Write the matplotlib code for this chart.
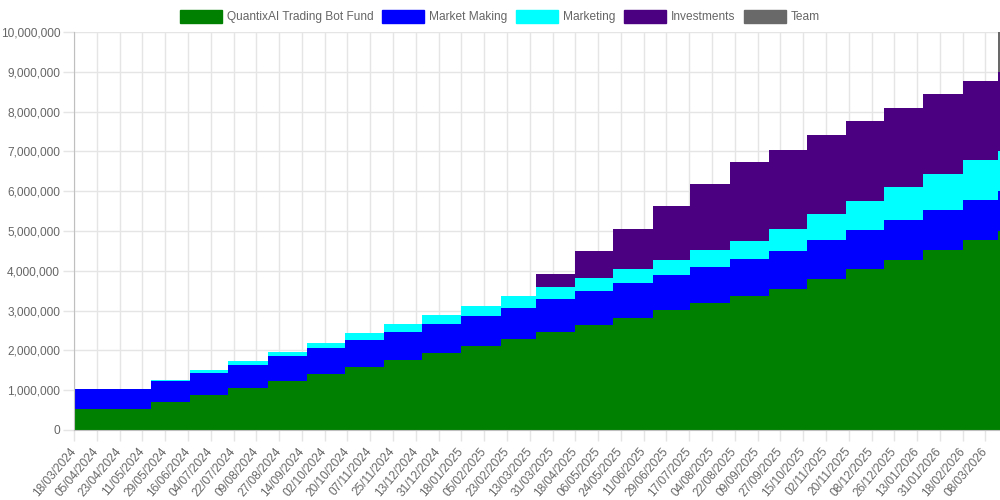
import numpy as np
import pandas as pd
import matplotlib
matplotlib.use("Agg")
import matplotlib.pyplot as plt
from matplotlib.patches import Patch
from matplotlib.ticker import FuncFormatter, MultipleLocator

plt.rcParams['font.family'] = ['Liberation Sans', 'DejaVu Sans']

# unlock dates: the 18th of every month, 18/03/2024 .. 18/03/2026
unlock_dates = pd.date_range('2024-03-18', periods=25, freq=pd.DateOffset(months=1))

# unlocked tokens per allocation at each unlock date
trading_bot = [530000, 530000, 706000, 883000, 1060000, 1236000, 1413000, 1590000,
               1766000, 1943000, 2120000, 2296000, 2473000, 2650000, 2826000, 3003000,
               3180000, 3356000, 3533000, 3783000, 4033000, 4283000, 4533000, 4783000,
               5000000]
market_making = [500000, 500000, 528000, 556000, 583000, 611000, 639000, 667000,
                 694000, 722000, 750000, 778000, 806000, 833000, 861000, 889000,
                 917000, 944000, 972000, 1000000, 1000000, 1000000, 1000000, 1000000,
                 1000000]
marketing = [0, 0, 25000, 60000, 90000, 115000, 142000, 172000, 194000, 220000,
             246000, 282000, 308000, 336000, 362000, 391000, 419000, 445000, 541000,
             640000, 728000, 820000, 910000, 995000, 1000000]
investments = [0, 0, 0, 0, 0, 0, 0, 0, 0, 0, 0, 0, 333000, 667000, 1000000, 1333000,
               1667000, 2000000, 2000000, 2000000, 2000000, 2000000, 2000000, 2000000,
               2000000]
team = [0] * 24 + [1000000]

labels = ['QuantixAI Trading Bot Fund', 'Market Making', 'Marketing', 'Investments', 'Team']
colors = ['#008000', '#0000ff', '#00ffff', '#4b0082', '#696969']
series = [trading_bot, market_making, marketing, investments, team]

fig = plt.figure(figsize=(10, 5), dpi=100)
ax = fig.add_axes([0.074, 0.14, 0.926, 0.796])

# extend the last value a little past the final unlock so it shows
x = list(unlock_dates) + [unlock_dates[-1] + pd.Timedelta(days=2)]
bottom = np.zeros(len(x))
for vals, col in zip(series, colors):
    v = np.array(vals + [vals[-1]], dtype=float)
    ax.fill_between(x, bottom, bottom + v, step='post', color=col, linewidth=0)
    bottom = bottom + v

start = pd.Timestamp('2024-03-18')
ax.set_xlim(start, start + pd.Timedelta(days=731.5))
ax.set_ylim(0, 10000000)

ticks = pd.date_range('2024-03-18', '2026-03-08', freq='18D')
ax.set_xticks(ticks)
ax.set_xticklabels([t.strftime('%d/%m/%Y') for t in ticks], rotation=50,
                   ha='right', va='center', rotation_mode='anchor')
ax.yaxis.set_major_locator(MultipleLocator(1000000))
ax.yaxis.set_major_formatter(FuncFormatter(lambda v, p: f'{v:,.0f}'))

ax.set_axisbelow(True)
ax.grid(True, color='#e5e5e5', linewidth=1)
ax.tick_params(axis='both', colors='#e5e5e5', length=8, width=1,
               labelcolor='#666666', labelsize=8.6)
ax.tick_params(axis='y', pad=2)
ax.tick_params(axis='x', pad=6)
for s in ['top', 'right']:
    ax.spines[s].set_visible(False)
ax.spines['left'].set_color('#bfbfbf')
ax.spines['bottom'].set_color('#bfbfbf')

handles = [Patch(facecolor=c, edgecolor=c, linewidth=1) for c in colors]
fig.legend(handles, labels, loc='center', bbox_to_anchor=(0.5, 0.967), ncol=5,
           frameon=False, fontsize=8.6, labelcolor='#666666',
           handlelength=3.5, handleheight=1.3, handletextpad=0.4,
           columnspacing=0.75, borderaxespad=0)

fig.savefig('out.png', dpi=100)
